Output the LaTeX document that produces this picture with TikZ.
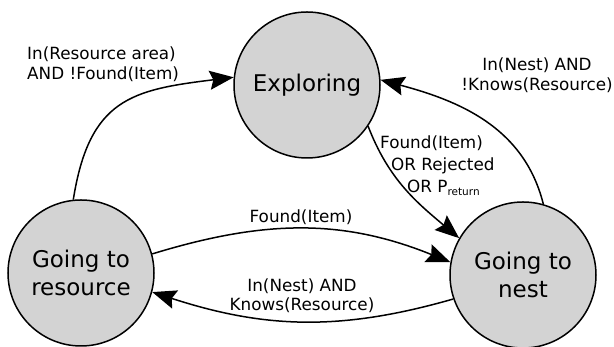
\documentclass[tikz,border=0pt]{standalone}
\usepackage{fontspec}
\setmainfont{DejaVu Sans}
\usetikzlibrary{arrows.meta}
\definecolor{stategray}{RGB}{211,211,211}
\begin{document}
\begin{tikzpicture}[x=1pt,y=1pt,
  state/.style={circle,draw=black,line width=1.5pt,fill=stategray,minimum size=146pt,inner sep=0pt,align=center,font=\fontsize{23}{28.5}\selectfont},
  trans/.style={line width=1.5pt,-{Stealth[length=24pt,width=19pt,inset=3.5pt]}},
  lbl/.style={inner sep=0pt,font=\fontsize{16.8}{20}\selectfont}]
\useasboundingbox (0,0) rectangle (614,347);
\node[state] (exp) at (307,262) {Exploring};
\node[state] (res) at (81,74) {Going to\\resource};
\node[state] (nest) at (523,72) {Going to\\nest};
\draw[trans] (res.96) to[out=81,in=187,looseness=1.3] (exp.174);
\draw[trans] (nest.74) to[out=104,in=-15] (exp.4);
\draw[trans] (exp.-34) to[out=-69,in=140] (nest.150);
\draw[trans] (res.15) to[out=17,in=158] (nest.170);
\draw[trans] (nest.199) to[out=196,in=-18] (res.-15);
\node[lbl,anchor=west,align=left] (l1) at (27,283) {In(Resource area)\\AND !Found(Item)};
\node[lbl,align=center] (l2) at (537,272) {In(Nest) AND\\!Knows(Resource)};
\node[lbl,anchor=west,align=left,font=\fontsize{16.8}{22}\selectfont] (l3) at (380,181) {Found(Item)\\\hspace*{11pt}OR Rejected\\\hspace*{27pt}OR P\raisebox{-3pt}{\fontsize{10.5}{12}\selectfont return}};
\node[lbl,anchor=base] (l4) at (301,124) {Found(Item)};
\node[lbl,align=center,font=\fontsize{16.8}{19}\selectfont] (l5) at (302,51) {In(Nest) AND\\Knows(Resource)};
\end{tikzpicture}
\end{document}
